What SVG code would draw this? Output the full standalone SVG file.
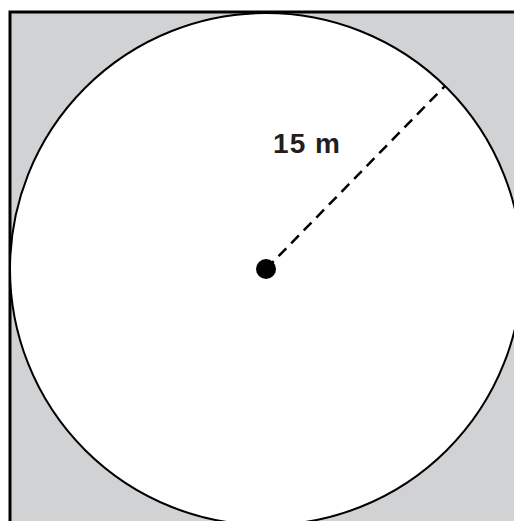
<svg xmlns="http://www.w3.org/2000/svg" width="514" height="521" viewBox="0 0 514 521">
<style>
.ln{stroke:#000;fill:none}
.lbl{font-family:"Liberation Sans",Arial,sans-serif;font-weight:bold;font-size:28px;fill:#231f20;letter-spacing:1px}
</style>
<g id="square"><rect x="10" y="12" width="520" height="520" fill="#d1d2d4" stroke="#000" stroke-width="3"/></g>
<g id="circle"><circle cx="266" cy="269" r="256" fill="#fff" stroke="#000" stroke-width="2"/></g>
<g id="connectors"><line class="ln" x1="266" y1="269" x2="445" y2="86" stroke-width="2.5" stroke-dasharray="11,7"/></g>
<g id="center"><circle cx="266" cy="269" r="10" fill="#000"/></g>
<g id="label"><text class="lbl" x="307" y="153" text-anchor="middle">15 m</text></g>
</svg>
